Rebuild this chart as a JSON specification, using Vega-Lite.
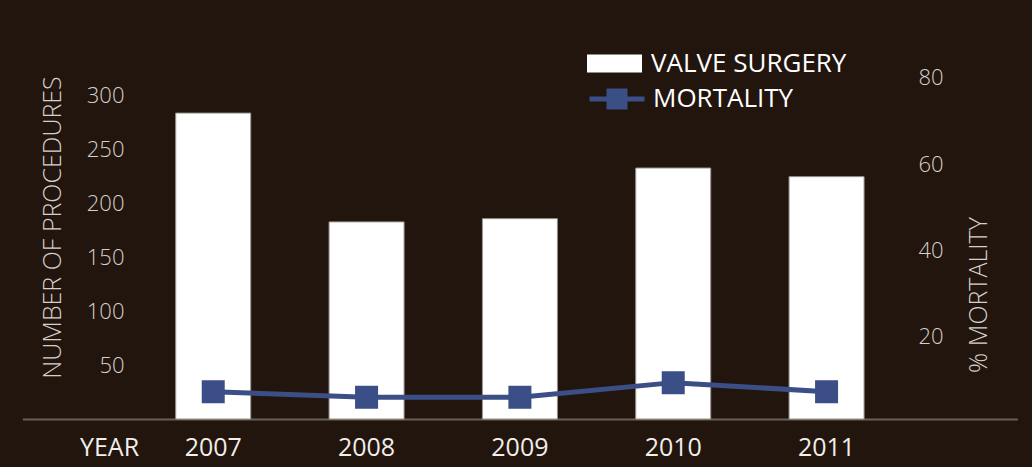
{
  "$schema": "https://vega.github.io/schema/vega-lite/v6.json",
  "width": 1032,
  "height": 419,
  "padding": {"left": 0, "top": 0, "right": 0, "bottom": 48},
  "autosize": {"type": "none"},
  "background": "#21150e",
  "config": {"view": {"stroke": null}, "font": "Open Sans"},
  "data": {
    "values": [
      {"year": "2007", "procedures": 284, "mortality": 7.2},
      {"year": "2008", "procedures": 183, "mortality": 5.9},
      {"year": "2009", "procedures": 186, "mortality": 5.9},
      {"year": "2010", "procedures": 233, "mortality": 9.3},
      {"year": "2011", "procedures": 225, "mortality": 7.2}
    ]
  },
  "encoding": {
    "x": {
      "field": "year",
      "type": "ordinal",
      "scale": {"range": [22.4, 1017.4], "paddingInner": 0.5109, "paddingOuter": 1, "align": 0.5, "round": false},
      "axis": {
        "title": "YEAR",
        "orient": "bottom",
        "domainColor": "#6b6056",
        "domainWidth": 2,
        "ticks": false,
        "tickSize": 0,
        "grid": false,
        "labelPadding": 28.5,
        "labelBaseline": "middle",
        "labelAngle": 0,
        "labelFontSize": 25,
        "labelColor": "#f2eee9",
        "titleX": 109,
        "titleY": 28.5,
        "titleBaseline": "middle",
        "titleAlign": "center",
        "titleAngle": 0,
        "titleFontSize": 25,
        "titleFontWeight": "normal",
        "titleColor": "#f2eee9"
      }
    }
  },
  "layer": [
    {
      "mark": {"type": "bar", "stroke": "#9b948d", "strokeWidth": 1},
      "encoding": {
        "y": {
          "field": "procedures",
          "type": "quantitative",
          "scale": {"domain": [0, 389], "nice": false},
          "axis": {
            "title": "NUMBER OF PROCEDURES",
            "orient": "left",
            "offset": -124,
            "domain": false,
            "ticks": false,
            "tickSize": 0,
            "grid": false,
            "labelPadding": 0,
            "values": [50, 100, 150, 200, 250, 300],
            "labelFontSize": 22,
            "labelFontWeight": 300,
            "labelColor": "#d6d0ca",
            "titleX": -72,
            "titleY": 227,
            "titleAngle": -90,
            "titleAlign": "center",
            "titleBaseline": "middle",
            "titleFontSize": 25,
            "titleFontWeight": 300,
            "titleColor": "#d6d0ca"
          }
        },
        "fill": {
          "datum": "VALVE SURGERY",
          "scale": {"range": ["#ffffff"]},
          "legend": {
            "title": null,
            "orient": "none",
            "legendX": 587,
            "legendY": 36,
            "padding": 0,
            "symbolType": "M-1,-0.327H1V0.327H-1Z",
            "symbolSize": 3025,
            "symbolStrokeWidth": 0,
            "labelFontSize": 26,
            "labelColor": "#ffffff",
            "labelOffset": 9,
            "labelLimit": 400
          }
        }
      }
    },
    {
      "mark": {"type": "line", "strokeWidth": 5, "point": {"shape": "square", "size": 441, "filled": true, "color": "#3b4f86"}},
      "encoding": {
        "y": {
          "field": "mortality",
          "type": "quantitative",
          "scale": {"domain": [0.86, 98.1], "nice": false, "zero": false},
          "axis": {
            "title": "% MORTALITY",
            "orient": "right",
            "offset": -114,
            "domain": false,
            "ticks": false,
            "tickSize": 0,
            "grid": false,
            "labelPadding": 0,
            "labelAlign": "left",
            "values": [20, 40, 60, 80],
            "labelFontSize": 22,
            "labelFontWeight": 300,
            "labelColor": "#d6d0ca",
            "titleX": 60,
            "titleY": 294.5,
            "titleAngle": -90,
            "titleAlign": "center",
            "titleBaseline": "middle",
            "titleFontSize": 25,
            "titleFontWeight": 300,
            "titleColor": "#d6d0ca"
          }
        },
        "stroke": {
          "datum": "MORTALITY",
          "scale": {"range": ["#3b4f86"]},
          "legend": {
            "title": null,
            "orient": "none",
            "legendX": 587,
            "legendY": 69,
            "padding": 0,
            "symbolType": "M-1,0H1M-0.291,-0.291H0.291V0.291H-0.291Z",
            "symbolSize": 3025,
            "symbolStrokeWidth": 5,
            "symbolFillColor": "#3b4f86",
            "symbolStrokeColor": "#3b4f86",
            "labelFontSize": 26,
            "labelColor": "#ffffff",
            "labelOffset": 6,
            "labelLimit": 400,
            "encode": {"symbols": {"update": {"fill": {"value": "#3b4f86"}, "fillOpacity": {"value": 1}}}}
          }
        }
      }
    }
  ],
  "resolve": {"scale": {"y": "independent"}}
}
